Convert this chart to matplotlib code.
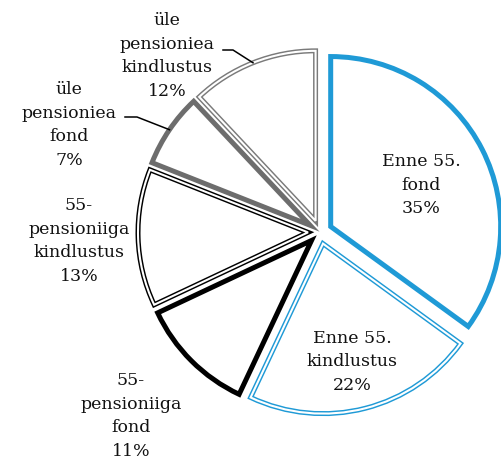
import matplotlib.pyplot as plt
import numpy as np

# osakaalud (%)
labels = ['Enne 55.\nfond', 'Enne 55.\nkindlustus', '55-\npensioniiga\nfond',
          '55-\npensioniiga\nkindlustus', 'üle\npensioniea\nfond', 'üle\npensioniea\nkindlustus']
shares = [35, 22, 11, 13, 7, 12]
edge_colors = ['#1f9ad6', '#1f9ad6', '#000000', '#000000', '#6d6d6d', '#7a7a7a']
double_edge = [False, True, False, True, False, True]

# sildi keskpunktid pikslites (ülevalt loetud)
label_x = [421, 352, 131, 79, 69, 167]
label_y = [185, 362, 416, 241, 125, 56]
# juhtjoone algus ja murdepunkt (ainult välistel siltidel)
leaders = {4: [(125, 117), (137, 117)], 5: [(223, 50), (233, 50)]}

W, H = 501, 461
cx, cy = 320, H - 232
R = 170

fig = plt.figure(figsize=(W / 100, H / 100), dpi=100)
ax = fig.add_axes([0, 0, 1, 1])

# pie nihutab lõike absoluutühikutes
explode = [12] * len(shares)
wedges, _ = ax.pie(shares, explode=explode, startangle=90, counterclock=False,
                   radius=R, center=(cx, cy), colors=['white'] * len(shares),
                   wedgeprops=dict(linewidth=3.6, joinstyle='miter'))
for w, c in zip(wedges, edge_colors):
    w.set_edgecolor(c)

# topeltjoon: valge joon paksu joone keskele
inner, _ = ax.pie(shares, explode=explode, startangle=90, counterclock=False,
                  radius=R, center=(cx, cy),
                  wedgeprops=dict(fill=False, linewidth=1.5, edgecolor='white', joinstyle='miter'))
for w, d in zip(inner, double_edge):
    w.set_visible(d)

for i, lab in enumerate(labels):
    ax.text(label_x[i], H - label_y[i], f'{lab}\n{shares[i]}%', ha='center', va='center',
            multialignment='center', linespacing=1.5, fontsize=12.5,
            family='DejaVu Serif', color='#111111', zorder=5)

for i, pts in leaders.items():
    w = wedges[i]
    tm = np.radians((w.theta1 + w.theta2) / 2)
    end = (w.center[0] + w.r * np.cos(tm), w.center[1] + w.r * np.sin(tm))
    xs = [p[0] for p in pts] + [end[0]]
    ys = [H - p[1] for p in pts] + [end[1]]
    ax.plot(xs, ys, color='black', linewidth=1.1, zorder=4)

ax.set_xlim(0, W)
ax.set_ylim(0, H)
ax.set_aspect('equal')
ax.axis('off')

plt.savefig('out.png', dpi=100)
